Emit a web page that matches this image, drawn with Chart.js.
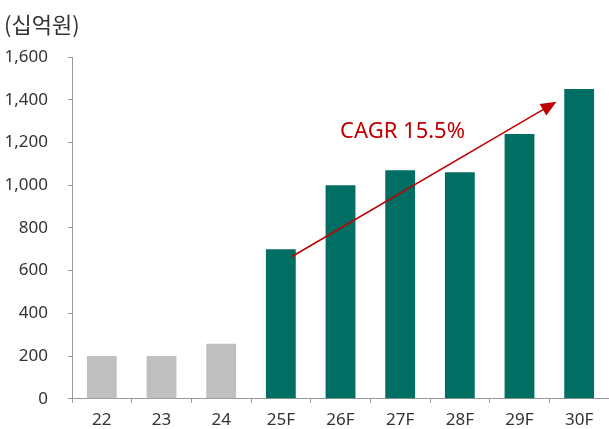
<!DOCTYPE html>
<html>
<head>
<meta charset="utf-8">
<script src="https://cdn.jsdelivr.net/npm/chart.js@4/dist/chart.umd.min.js"></script>
<style>
  html, body { margin: 0; padding: 0; background: #fff; }
  #wrap { width: 609px; height: 429px; position: relative; }
</style>
</head>
<body>
<div id="wrap"><canvas id="barChart"></canvas></div>
<script>
const labels = ['22', '23', '24', '25F', '26F', '27F', '28F', '29F', '30F'];
const values = [200, 200, 258, 700, 1000, 1070, 1060, 1240, 1450];
const isForecast = [false, false, false, true, true, true, true, true, true];
const yTicks = [0, 200, 400, 600, 800, 1000, 1200, 1400, 1600];
const unitLabel = '(십억원)';
const cagrText = 'CAGR 15.5%';
// arrow start / end in data coords (category index, value)
const arrowFrom = [3.18, 665];
const arrowTo = [7.62, 1390];
const cagrPos = [5.04, 1250];

const GREEN = '#006e62';
const GREY = '#bfbfbf';
const RED = '#c00000';
const NUM_FONT = "'Noto Sans', 'Open Sans', sans-serif";

const overlay = {
    id: 'overlay',
    afterDatasetsDraw(chart) {
        const { ctx, scales: { x, y } } = chart;
        const px = (i) => x.getPixelForValue(0) + i * (x.getPixelForValue(1) - x.getPixelForValue(0));

        // 단위 표기
        ctx.save();
        ctx.fillStyle = '#333';
        ctx.font = "22px 'Noto Sans CJK KR', sans-serif";
        ctx.textAlign = 'left';
        ctx.textBaseline = 'middle';
        ctx.fillText(unitLabel, 4, 25);

        // CAGR 화살표
        const x1 = px(arrowFrom[0]), y1 = y.getPixelForValue(arrowFrom[1]);
        const x2 = px(arrowTo[0]), y2 = y.getPixelForValue(arrowTo[1]);
        const ang = Math.atan2(y2 - y1, x2 - x1);
        const head = 17;
        ctx.strokeStyle = RED;
        ctx.fillStyle = RED;
        ctx.lineWidth = 1.5;
        ctx.beginPath();
        ctx.moveTo(x1, y1);
        ctx.lineTo(x2 - Math.cos(ang) * head * 0.8, y2 - Math.sin(ang) * head * 0.8);
        ctx.stroke();
        ctx.beginPath();
        ctx.moveTo(x2, y2);
        ctx.lineTo(x2 - head * Math.cos(ang - 0.4), y2 - head * Math.sin(ang - 0.4));
        ctx.lineTo(x2 - head * Math.cos(ang + 0.4), y2 - head * Math.sin(ang + 0.4));
        ctx.closePath();
        ctx.fill();

        ctx.font = '22px ' + NUM_FONT;
        ctx.textAlign = 'center';
        ctx.fillText(cagrText, px(cagrPos[0]), y.getPixelForValue(cagrPos[1]));
        ctx.restore();
    }
};

new Chart(document.getElementById('barChart'), {
    type: 'bar',
    data: {
        labels: labels,
        datasets: [{
            data: values,
            backgroundColor: isForecast.map(f => f ? GREEN : GREY),
            borderWidth: 0,
            barPercentage: 0.5,
            categoryPercentage: 1.0
        }]
    },
    options: {
        responsive: true,
        maintainAspectRatio: false,
        animation: false,
        layout: { padding: { top: 57, right: 0, left: 0, bottom: 0 } },
        plugins: {
            legend: { display: false },
            tooltip: { enabled: false }
        },
        scales: {
            x: {
                afterFit: (scale) => { scale.height = 28; },
                grid: { display: true, drawOnChartArea: false, tickLength: 4, color: '#999' },
                border: { display: true, color: '#999' },
                ticks: { color: '#333', font: { family: NUM_FONT, size: 17 }, padding: 7 }
            },
            y: {
                min: 0,
                max: 1600,
                afterBuildTicks: (scale) => { scale.ticks = yTicks.map(v => ({ value: v })); },
                afterFit: (scale) => { scale.width = 72; },
                grid: { display: true, drawOnChartArea: false, tickLength: 4, color: '#999' },
                border: { display: true, color: '#999' },
                ticks: {
                    color: '#333',
                    font: { family: NUM_FONT, size: 17 },
                    padding: 20,
                    callback: (v) => v.toLocaleString('en-US')
                }
            }
        }
    },
    plugins: [overlay]
});
</script>
</body>
</html>
